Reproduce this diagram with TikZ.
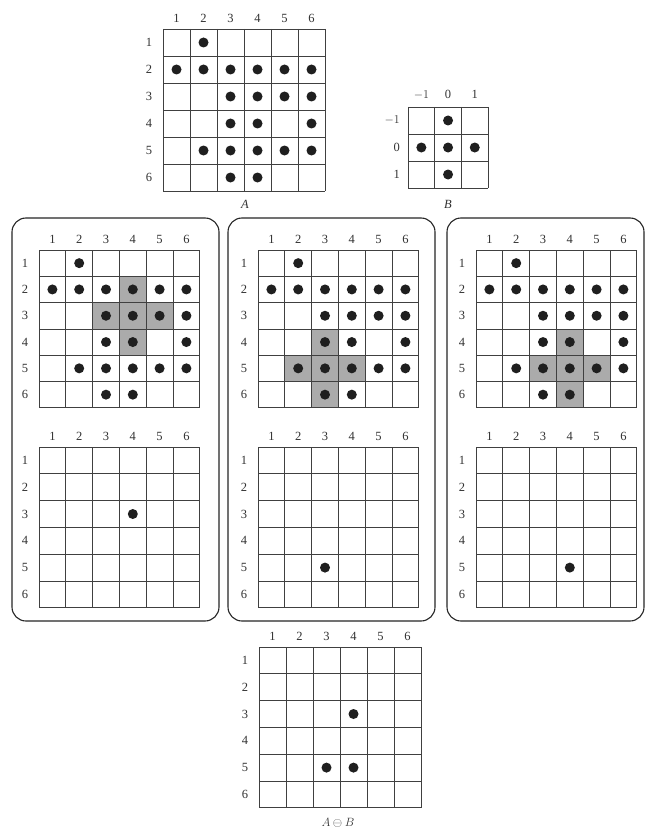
\documentclass[tikz,border=0pt]{standalone}
\usepackage{fontspec}
\setmainfont{Liberation Serif}
\begin{document}
\begin{tikzpicture}[x=1pt,y=-1pt,
  gl/.style={draw=black!75,line width=0.7pt},
  lab/.style={inner sep=0pt,text=black!80,font=\fontsize{12.5}{14}\selectfont},
  shd/.style={fill=black!33},
  dotcol/.style={fill=black!88},
  panel/.style={draw=black!85,line width=1.1pt,rounded corners=14pt}]
\useasboundingbox (0,0) rectangle (645,832);
\fill[white] (0,0) rectangle (645,832);

\newcommand{\putshade}[2]{\fill[shd] (#2-1,#1-1) rectangle (#2,#1);}
\newcommand{\putdot}[2]{\fill[dotcol] (#2-0.5,#1-0.5) circle[radius=5pt];}
\newcommand{\Adots}{\foreach \rr/\cc in {1/2,2/1,2/2,2/3,2/4,2/5,2/6,3/3,3/4,3/5,3/6,4/3,4/4,4/6,5/2,5/3,5/4,5/5,5/6,6/3,6/4}{\putdot{\rr}{\cc}}}
\newcommand{\sixgrid}[6]{%
\begin{scope}[shift={(#2pt,-#3pt)},x=#4pt,y=-#5pt]
  #6
  \foreach \k in {0,...,6} {
    \draw[gl] (\k,0) -- (\k,6);
    \draw[gl] (0,\k) -- (6,\k);
  }
  \foreach \k in {1,...,6} {
    \node[lab] (#1c\k) at (\k-0.5,-11/#5) {\k};
    \node[lab] (#1r\k) at (-14/#4,\k-0.5) {\k};
  }
\end{scope}}

% top grid A
\sixgrid{ga}{163}{29}{27}{27}{\Adots}
\node[lab,font=\fontsize{12.5}{14}\selectfont\itshape] (labA) at (245,204) {A};

% grid B
\begin{scope}[shift={(408pt,-107pt)},x=26.7pt,y=-27pt]
  \foreach \rr/\cc in {1/2,2/1,2/2,2/3,3/2}{\putdot{\rr}{\cc}}
  \foreach \k in {0,...,3} {
    \draw[gl] (\k,0) -- (\k,3);
    \draw[gl] (0,\k) -- (3,\k);
  }
  \node[lab] (gbc1) at (0.5,-0.45) {$-1$};
  \node[lab] (gbc2) at (1.5,-0.45) {0};
  \node[lab] (gbc3) at (2.5,-0.45) {1};
  \node[lab,anchor=east] (gbr1) at (-0.3,0.5) {$-1$};
  \node[lab,anchor=east] (gbr2) at (-0.3,1.5) {0};
  \node[lab,anchor=east] (gbr3) at (-0.3,2.5) {1};
\end{scope}
\node[lab,font=\fontsize{12.5}{14}\selectfont\itshape] (labB) at (448,204) {B};

% panels
\draw[panel] (12,218) rectangle (219,621);
\draw[panel] (228,218) rectangle (435,621);
\draw[panel] (447,218) rectangle (644,621);

% left panel
\sixgrid{p1u}{39}{250}{26.8}{26.3}{\foreach \rr/\cc in {2/4,3/3,3/4,3/5,4/4}{\putshade{\rr}{\cc}}\Adots}
\sixgrid{p1l}{39}{447}{26.8}{26.8}{\putdot{3}{4}}
% middle panel
\sixgrid{p2u}{258}{250}{26.8}{26.3}{\foreach \rr/\cc in {4/3,5/2,5/3,5/4,6/3}{\putshade{\rr}{\cc}}\Adots}
\sixgrid{p2l}{258}{447}{26.8}{26.8}{\putdot{5}{3}}
% right panel
\sixgrid{p3u}{476}{250}{26.8}{26.3}{\foreach \rr/\cc in {4/4,5/3,5/4,5/5,6/4}{\putshade{\rr}{\cc}}\Adots}
\sixgrid{p3l}{476}{447}{26.8}{26.8}{\putdot{5}{4}}

% result
\sixgrid{gr}{259}{647}{27}{26.8}{\putdot{3}{4}\putdot{5}{3}\putdot{5}{4}}
\node[lab] (labR) at (338,823) {$A \ominus B$};
\end{tikzpicture}
\end{document}
